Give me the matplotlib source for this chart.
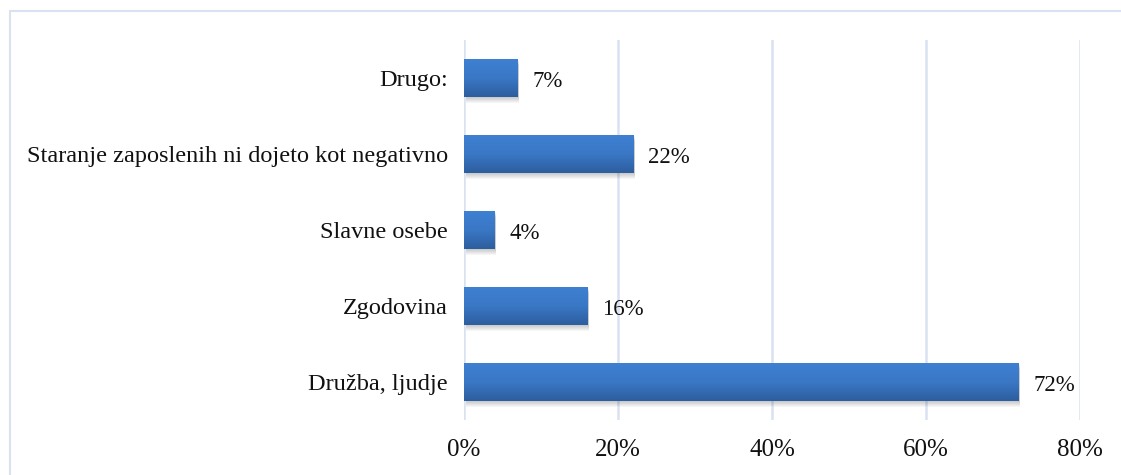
import numpy as np
import matplotlib
matplotlib.use("Agg")
import matplotlib.pyplot as plt
from matplotlib.patches import Rectangle
from matplotlib.colors import LinearSegmentedColormap
import matplotlib.transforms as mtransforms

plt.rcParams['font.family'] = ['Liberation Serif', 'DejaVu Serif']

categories = ["Družba, ljudje", "Zgodovina", "Slavne osebe",
              "Staranje zaposlenih ni dojeto kot negativno", "Drugo:"]
values = [0.72, 0.16, 0.04, 0.22, 0.07]
xticks = [0.0, 0.2, 0.4, 0.6, 0.8]

GRID = "#D9E2F3"
bar_cmap = LinearSegmentedColormap.from_list("bar", ["#2D5E9E", "#3A78C6", "#3F80D2"])

fig = plt.figure(figsize=(11.21, 4.75), dpi=100)
# light outer frame of the chart area
fig.patches.append(Rectangle((10 / 1121, -0.1), 1.2, 1 - 11 / 475 + 0.1,
                             transform=fig.transFigure, fill=False,
                             edgecolor=GRID, lw=1.5))

ax = fig.add_axes([464 / 1121, 55 / 475, 616 / 1121, 380 / 475])
ypos = np.arange(len(categories))
h = 0.51

bars = ax.barh(ypos, values, height=h, color="none", zorder=3)
for b, v in zip(bars, values):
    x0, y0, w, hh = b.get_x(), b.get_y(), b.get_width(), b.get_height()
    # soft drop shadow below each bar
    for k in range(1, 7):
        off = mtransforms.offset_copy(ax.transData, fig=fig, x=1.5, y=-k, units="dots")
        ax.add_patch(Rectangle((x0, y0), w, hh, transform=off, color="black",
                               alpha=0.035, lw=0, zorder=2))
    grad = np.linspace(0, 1, 64).reshape(-1, 1)
    im = ax.imshow(grad, cmap=bar_cmap, aspect="auto", origin="lower",
                   extent=[x0, x0 + w, y0, y0 + hh], zorder=3)
    im.set_clip_path(b)
    ax.text(v + 0.019, b.get_y() + hh / 2 - 0.04, f"{v * 100:.0f}%", va="center",
            ha="left", fontsize=16.5, color="#111111", zorder=4)

ax.set_xlim(0, 0.8)
ax.set_ylim(-0.5, len(categories) - 0.5)
ax.set_xticks(xticks)
ax.set_xticklabels([f"{t * 100:.0f}%" for t in xticks], fontsize=18)
ax.set_yticks(ypos)
ax.set_yticklabels(categories, fontsize=17.5)
ax.tick_params(axis="both", length=0, colors="#111111")
ax.tick_params(axis="x", pad=14)
ax.tick_params(axis="y", pad=11.7)
ax.xaxis.grid(True, color=GRID, lw=1.8, zorder=0)
ax.set_axisbelow(True)
for s in ax.spines.values():
    s.set_visible(False)

fig.savefig("out.png", dpi=100)
